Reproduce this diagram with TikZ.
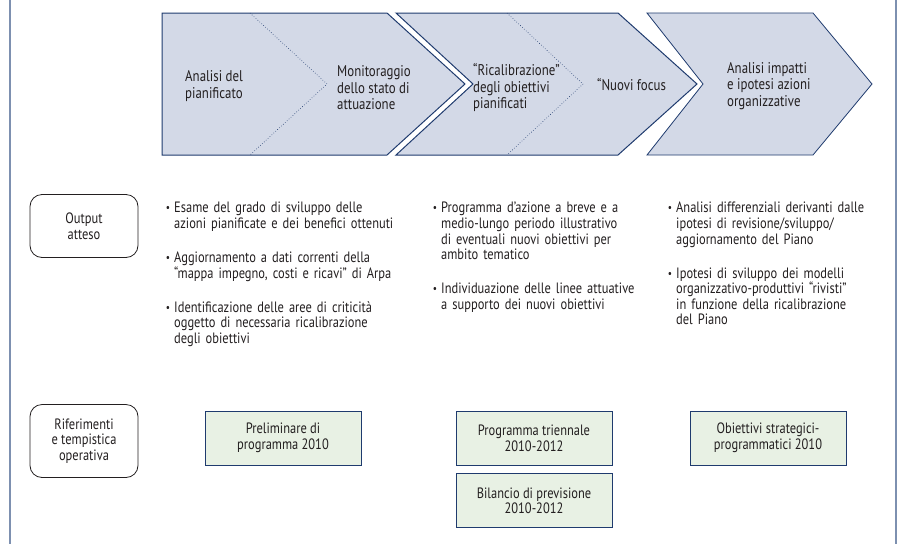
\documentclass[tikz,border=0pt]{standalone}
\usepackage{fontspec}
\setmainfont{PT Sans}[FakeStretch=0.83]
\usepackage{enumitem}
\usetikzlibrary{positioning}

\definecolor{chevfill}{HTML}{D3D9E7}
\definecolor{chevline}{HTML}{1F3B6E}
\definecolor{boxfill}{HTML}{E8F1E4}
\definecolor{framecol}{HTML}{7D90B0}
\definecolor{txt}{HTML}{231F20}

\newcommand{\bodyfont}{\fontsize{15}{15.6}\selectfont}
\newcommand{\pointlist}[1]{%
  \begin{itemize}[leftmargin=9pt,labelsep=4pt,itemsep=18.4pt,parsep=0pt,topsep=0pt,partopsep=0pt,
    label=\raisebox{1pt}{\scalebox{0.75}{\textbullet}}]
  #1
  \end{itemize}}

\tikzset{
  chevron/.style={draw=chevline, fill=chevfill, line width=1pt},
  divider/.style={draw=chevline, dotted, line width=0.6pt},
  steplabel/.style={anchor=west, align=left, inner sep=0pt, text=txt,
    font=\fontsize{15.5}{16.5}\selectfont},
  rowlabel/.style={draw=txt, fill=white, rounded corners=12pt, line width=0.8pt,
    minimum width=108pt, align=center, text=txt, font=\bodyfont},
  refbox/.style={draw=chevline, fill=boxfill, line width=0.8pt,
    minimum width=156pt, minimum height=54pt, align=center, text=txt, font=\bodyfont},
  bullets/.style={anchor=north west, inner sep=0pt, text width=#1, text=txt, font=\bodyfont}
}

\begin{document}
\begin{tikzpicture}[x=1pt,y=-1pt]
\useasboundingbox (0,0) rectangle (899,544);

% frame
\draw[framecol, line width=1.5pt] (10,0) -- (10,544);
\draw[framecol, line width=1.5pt] (896,0) -- (896,544);

% phases
\draw[chevron] (162,13) -- (387,13) -- (465,84) -- (387,155) -- (162,155) -- cycle;
\draw[chevron] (396,13) -- (618,13) -- (697,84) -- (618,155) -- (396,155) -- (473,84) -- cycle;
\draw[chevron, line width=0.8pt] (647,13) -- (813,13) -- (872,84) -- (813,155) -- (647,155) -- (703,84) -- cycle;
\draw[divider] (250,13) -- (327,84) -- (250,155);
\draw[divider] (507,13) -- (583,84) -- (507,155);

\node[steplabel] (analisi) at (185,86) {Analisi del\\pianificato};
\node[steplabel] (monitoraggio) at (337,88) {Monitoraggio\\dello stato di\\attuazione};
\node[steplabel] (ricalibrazione) at (473,88) {“Ricalibrazione”\\degli obiettivi\\pianificati};
\node[steplabel] (focus) at (597,85) {“Nuovi focus};
\node[steplabel] (impatti) at (727,86) {Analisi impatti\\e ipotesi azioni\\organizzative};

% output atteso
\node[rowlabel, minimum height=63pt] (output) at (84,226) {Output\\atteso};

\node[bullets=265pt] (esame) at (165,197) {\pointlist{
  \item Esame del grado di sviluppo delle\newline azioni pianificate e dei benefici ottenuti
  \item Aggiornamento a dati correnti della\newline “mappa impegno, costi e ricavi” di Arpa
  \item Identificazione delle aree di criticità\newline oggetto di necessaria ricalibrazione\newline degli obiettivi}};
\node[bullets=230pt] (programma) at (432,197) {\pointlist{
  \item Programma d’azione a breve e a\newline medio-lungo periodo illustrativo\newline di eventuali nuovi obiettivi per\newline ambito tematico
  \item Individuazione delle linee attuative\newline a supporto dei nuovi obiettivi}};
\node[bullets=225pt] (differenziali) at (667,197) {\pointlist{
  \item Analisi differenziali derivanti dalle\newline ipotesi di revisione/sviluppo/\newline aggiornamento del Piano
  \item Ipotesi di sviluppo dei modelli\newline organizzativo-produttivi “rivisti”\newline in funzione della ricalibrazione\newline del Piano}};

% riferimenti
\node[rowlabel, minimum height=73pt] (riferimenti) at (84,441) {Riferimenti\\e tempistica\\operativa};

\node[refbox] (preliminare) at (283,438) {Preliminare di\\programma 2010};
\node[refbox] (triennale) at (534,438) {Programma triennale\\2010-2012};
\node[refbox] (bilancio) [below=8pt of triennale] {Bilancio di previsione\\2010-2012};
\node[refbox] (strategici) at (768,438) {Obiettivi strategici-\\programmatici 2010};

\end{tikzpicture}
\end{document}
